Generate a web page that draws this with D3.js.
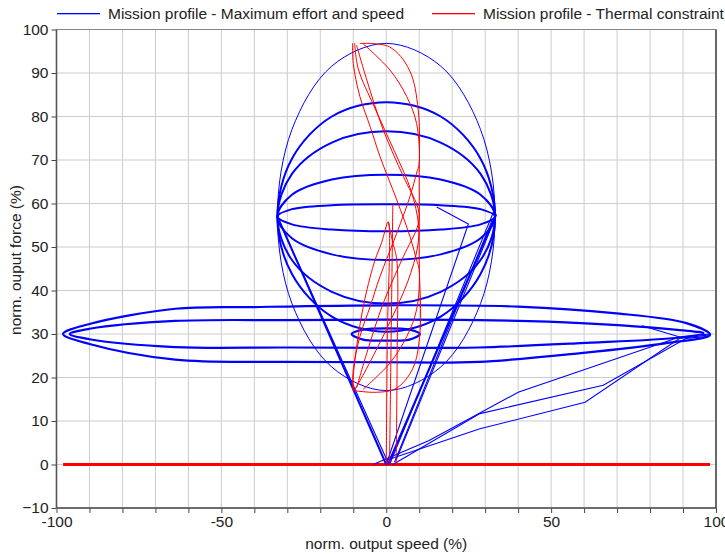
<!DOCTYPE html>
<html>
<head>
<meta charset="utf-8">
<script src="https://cdn.jsdelivr.net/npm/d3@7"></script>
<style>
  body { margin: 0; background: #fff; }
  text { font-family: "Liberation Sans", Arial, sans-serif; }
</style>
</head>
<body>
<svg id="chart" width="725" height="554"></svg>
<script>
// Axis ticks
const xMajorTicks = [-100, -50, 0, 50, 100];
const xMinorTicks = [-100, -90, -80, -70, -60, -50, -40, -30, -20, -10, 0, 10, 20, 30, 40, 50, 60, 70, 80, 90, 100];
const yTicks = [-10, 0, 10, 20, 30, 40, 50, 60, 70, 80, 90, 100];
const seriesNames = ['Mission profile - Maximum effort and speed', 'Mission profile - Thermal constraint'];

// Blue: maximum effort and speed (speed %, force %)
const blueOuterLoop = [[33, 57], [28.6, 77], [16.5, 91.6], [0, 96.8], [-16.5, 91.6], [-28.6, 77],
  [-33, 57], [-28.6, 37], [-16.5, 22.4], [0, 17], [16.5, 22.4], [28.6, 37]];
const blueVerticalLoops = [
  [[33, 57], [28.6, 70.3], [16.5, 80], [0, 83.3], [-16.5, 80], [-28.6, 70.3],
    [-33, 57], [-28.6, 43.8], [-16.5, 34], [0, 30.5], [16.5, 34], [28.6, 43.8]],
  [[33, 57], [28.6, 66.8], [16.5, 74], [0, 76.6], [-16.5, 74], [-28.6, 66.8],
    [-33, 57], [-28.6, 47], [-16.5, 39.7], [0, 37], [16.5, 39.7], [28.6, 47]],
  [[33, 57], [28.6, 62], [16.5, 65.5], [0, 66.6], [-16.5, 65.5], [-28.6, 62],
    [-33, 57], [-28.6, 52], [-16.5, 48.3], [0, 47], [16.5, 48.3], [28.6, 52]],
  [[33, 57], [28.6, 58.7], [16.5, 59.6], [0, 59.8], [-16.5, 59.6], [-28.6, 58.7],
    [-33, 57], [-28.6, 55.2], [-16.5, 54], [0, 53.6], [16.5, 54], [28.6, 55.2]],
];
const blueHorizontalLoops = [
  [[98.2, 29.8], [91, 32.5], [69, 34.8], [40, 36.3], [0, 36.6], [-40, 36.2], [-64, 35.8], [-90, 32.3],
    [-98, 30], [-90, 27.7], [-64, 24.1], [-30, 23.6], [0, 23.5], [28, 23.6], [59, 25.6], [85, 27.9]],
  [[96.2, 30.2], [89, 30.9], [59, 32.5], [28, 33.2], [0, 33.3], [-30, 33.2], [-64, 33], [-90, 31.2],
    [-96, 30], [-90, 28.8], [-64, 27], [-30, 26.9], [0, 26.8], [28, 26.9], [59, 27.9], [89, 29.2]],
  [[10.2, 30], [7, 31], [0, 31.3], [-7, 31], [-10.5, 30], [-7, 28.7], [0, 28.5], [7, 28.7]],
];
const blueThickLines = [
  [[-33, 57], [0, 0]],
  [[33, 57], [0.5, 0]],
];
const blueLines = [
  [[-32.5, 56], [0.5, 0.5]],
  [[32.5, 58], [1, 0]],
  [[32, 56], [2.5, 0.5]],
  [[33.5, 57.5], [3, 1]],
  [[15.3, 59.2], [24.9, 55.3], [0, 0]],
  [[-4, 0], [13, 5.5], [40, 16.6], [89, 29.3], [98, 30]],
  [[0, 1], [28.4, 8.2], [60.3, 14.3], [89, 29], [98, 29.8]],
  [[2, 0], [28.4, 11.7], [65.8, 18.2], [91, 29], [98, 29.5]],
  [[77.6, 31.9], [89, 29.3]],
];

// Red: thermal constraint
const redZero = [[-98, 0], [98.2, 0]];
const redCurves = [
  [[-10.2, 96.8], [-10, 92.2], [-8, 84.6], [-4.8, 77.5], [-1.9, 70.8], [3.2, 60.8], [7.2, 52.4], [9.2, 47],
    [10, 44.8], [9.2, 35.6], [6.2, 29.4], [1.1, 23.3], [-7, 17.3]],
  [[-9, 96.4], [-5.9, 88.4], [-0.9, 76.9], [5.2, 66.2], [9.4, 59.5], [10, 57], [9.4, 54.5],
    [5.2, 47.8], [-0.9, 37.1], [-5.9, 25.6], [-9, 17.6]],
  [[-7, 96.7], [1.1, 90.7], [6.2, 84.6], [9.2, 78.4], [10, 69.2], [9.2, 67], [7.2, 61.6], [3.2, 53.2],
    [-1.9, 43.2], [-4.8, 36.5], [-8, 29.4], [-10, 21.8], [-10.2, 17.2]],
  [[-8, 96.8], [1, 96], [7, 90.7], [9.7, 81.5], [10, 65], [10, 47], [10.2, 30], [8, 22], [3, 17.5],
    [-3, 16.6], [-10, 17]],
  [[-9.6, 96.9], [-8.5, 91], [-3.5, 82], [2.5, 72], [7.5, 63], [9.8, 55], [9.5, 50], [6.5, 42],
    [0, 31], [-6, 22], [-9.6, 17.1]],
  // start and end transitions
  [[0, 0], [0.3, 28], [0.6, 55.8], [-1.4, 51], [-3.4, 47], [-6.5, 38], [-9, 27], [-10, 20], [-10, 17]],
  [[0.6, 55.8], [2, 51], [3.2, 47], [3.3, 25], [3, 0]],
  [[1, 0], [1.5, 30], [2, 60]],
];

const margin = { top: 29.5, right: 9, bottom: 46, left: 56.5 };
const width = 725 - margin.left - margin.right;
const height = 554 - margin.top - margin.bottom;
const fontSize = 15.5;

const svg = d3.select('#chart');
const g = svg.append('g').attr('transform', `translate(${margin.left},${margin.top})`);

const x = d3.scaleLinear().domain([-100, 100]).range([0, width]);
const y = d3.scaleLinear().domain([-10, 100]).range([height, 0]);

// Grid
g.append('g')
  .selectAll('line')
  .data(xMinorTicks)
  .join('line')
  .attr('x1', (d) => x(d)).attr('x2', (d) => x(d))
  .attr('y1', 0).attr('y2', height)
  .attr('stroke', '#cccccc');
g.append('g')
  .selectAll('line')
  .data(yTicks)
  .join('line')
  .attr('x1', 0).attr('x2', width)
  .attr('y1', (d) => y(d)).attr('y2', (d) => y(d))
  .attr('stroke', '#cccccc');

// Axes
const xAxis = g.append('g')
  .attr('transform', `translate(0,${height})`)
  .call(d3.axisBottom(x).tickValues(xMinorTicks).tickSize(5)
    .tickFormat((d) => (xMajorTicks.includes(d) ? d : '')));
const yAxis = g.append('g')
  .call(d3.axisLeft(y).tickValues(yTicks).tickSize(5));
[xAxis, yAxis].forEach((ax) => {
  ax.select('.domain').remove();
  ax.selectAll('line').attr('stroke', '#444');
  ax.selectAll('text').attr('font-size', fontSize).attr('fill', '#222')
    .attr('font-family', '"Liberation Sans", Arial, sans-serif');
});

// Frame
g.append('rect')
  .attr('width', width).attr('height', height)
  .attr('fill', 'none').attr('stroke', '#888');
[[0, 0, 0, height], [width, 0, width, height], [0, height, width, height]].forEach((l) => {
  g.append('line').attr('x1', l[0]).attr('y1', l[1]).attr('x2', l[2]).attr('y2', l[3])
    .attr('stroke', '#555').attr('stroke-width', 1.6);
});

// Line generators
const closed = d3.line().x((d) => x(d[0])).y((d) => y(d[1])).curve(d3.curveCatmullRomClosed.alpha(0.5));
const smooth = d3.line().x((d) => x(d[0])).y((d) => y(d[1])).curve(d3.curveCatmullRom.alpha(0.5));
const straight = d3.line().x((d) => x(d[0])).y((d) => y(d[1]));

const plot = g.append('g');

// Red zero line
plot.append('path').datum(redZero).attr('d', straight)
  .attr('fill', 'none').attr('stroke', '#ff0000').attr('stroke-width', 3);

// Blue
plot.append('path').datum(blueOuterLoop).attr('d', closed)
  .attr('fill', 'none').attr('stroke', '#0000ff').attr('stroke-width', 1);
plot.selectAll('.bv').data(blueVerticalLoops).join('path').attr('class', 'bv')
  .attr('d', closed).attr('fill', 'none').attr('stroke', '#0000ff').attr('stroke-width', 2);
plot.selectAll('.bh').data(blueHorizontalLoops).join('path').attr('class', 'bh')
  .attr('d', closed).attr('fill', 'none').attr('stroke', '#0000ff').attr('stroke-width', 2.2);
plot.selectAll('.bt').data(blueThickLines).join('path').attr('class', 'bt')
  .attr('d', straight).attr('fill', 'none').attr('stroke', '#0000ff').attr('stroke-width', 2);
plot.selectAll('.bl').data(blueLines).join('path').attr('class', 'bl')
  .attr('d', straight).attr('fill', 'none').attr('stroke', '#0000ff').attr('stroke-width', 1.1);

// Red curves
plot.selectAll('.rc').data(redCurves).join('path').attr('class', 'rc')
  .attr('d', smooth).attr('fill', 'none').attr('stroke', '#ff0000').attr('stroke-width', 1);

// Axis titles
svg.append('text')
  .attr('x', margin.left + width / 2).attr('y', 549)
  .attr('text-anchor', 'middle').attr('font-size', fontSize).attr('fill', '#222')
  .text('norm. output speed (%)');
svg.append('text')
  .attr('transform', 'translate(21,260) rotate(-90)')
  .attr('text-anchor', 'middle').attr('font-size', fontSize).attr('fill', '#222')
  .text('norm. ouput force (%)');

// Legend
const legendColors = ['#0000ff', '#ff0000'];
const legendX = [57, 432];
const legend = svg.append('g');
seriesNames.forEach((name, i) => {
  legend.append('rect')
    .attr('x', legendX[i]).attr('y', 13)
    .attr('width', 43).attr('height', 1.3)
    .attr('fill', legendColors[i]);
  legend.append('text')
    .attr('x', legendX[i] + 51).attr('y', 19)
    .attr('font-size', fontSize).attr('fill', '#222')
    .text(name);
});
</script>
</body>
</html>
